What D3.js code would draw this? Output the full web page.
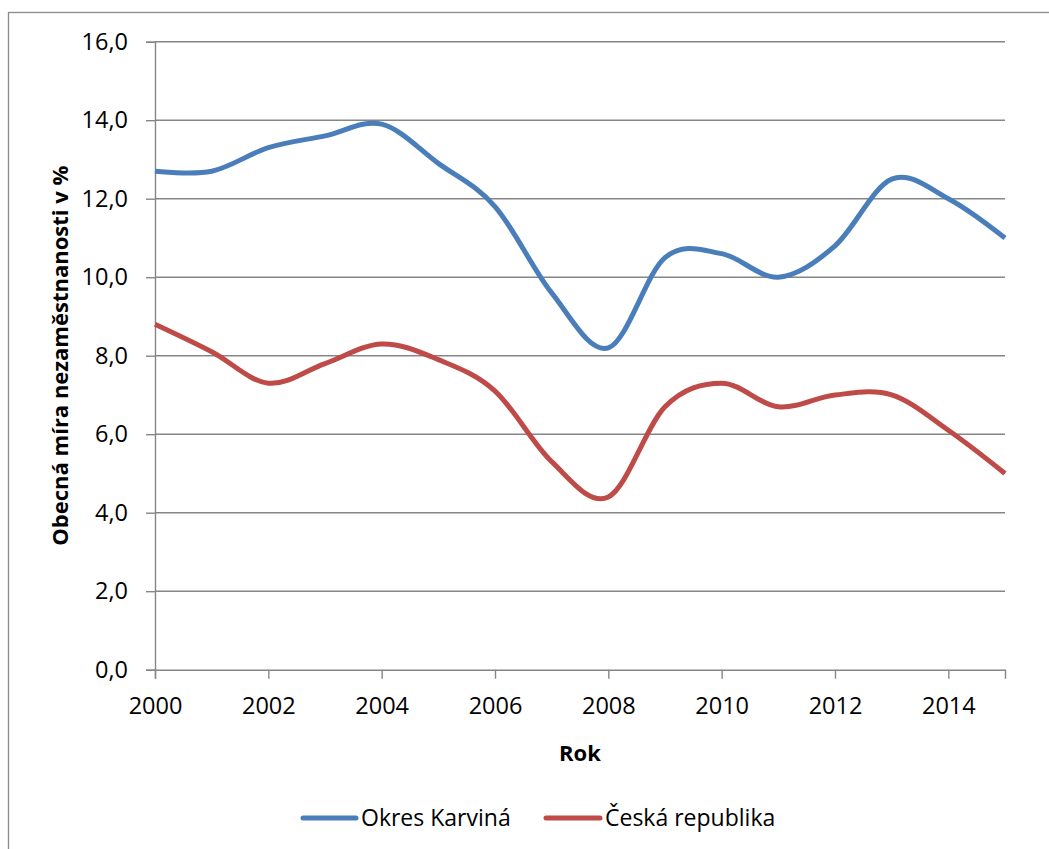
<!DOCTYPE html>
<html>
<head>
<meta charset="utf-8">
<script src="https://cdn.jsdelivr.net/npm/d3@7"></script>
<style>
  html, body { margin: 0; padding: 0; background: #fff; }
  svg { display: block; }
  text { font-family: "Open Sans", "Noto Sans", sans-serif; fill: #000; }
</style>
</head>
<body>
<svg id="chart" width="1049" height="849"></svg>
<script>
// Unemployment rate (%) by year
const years = [2000, 2001, 2002, 2003, 2004, 2005, 2006, 2007, 2008, 2009, 2010, 2011, 2012, 2013, 2014, 2015];
const karvina = [12.7, 12.7, 13.3, 13.6, 13.9, 12.9, 11.8, 9.6, 8.2, 10.5, 10.6, 10.0, 10.8, 12.5, 12.0, 11.0];
const cr = [8.8, 8.1, 7.3, 7.8, 8.3, 7.9, 7.1, 5.3, 4.4, 6.7, 7.3, 6.7, 7.0, 7.0, 6.1, 5.0];
const xTicks = [2000, 2002, 2004, 2006, 2008, 2010, 2012, 2014];
const yTicks = [0, 2, 4, 6, 8, 10, 12, 14, 16];
const seriesNames = ["Okres Karviná", "Česká republika"];
const seriesColors = ["#4a7ebb", "#be4b48"];

const svg = d3.select("#chart");
const plotLeft = 155, plotRight = 1005, plotTop = 41.7, plotBottom = 669.7;
const fontStack = "'Open Sans', 'Noto Sans', sans-serif";

const x = d3.scaleLinear().domain([2000, 2015]).range([plotLeft, plotRight]);
const y = d3.scaleLinear().domain([0, 16]).range([plotBottom, plotTop]);
const fmt = d => d.toFixed(1).replace(".", ",");

// Outer chart frame
svg.append("rect")
  .attr("x", 8.5).attr("y", 12.5)
  .attr("width", 1100).attr("height", 900)
  .attr("fill", "none").attr("stroke", "#8c8c8c").attr("stroke-width", 1.3);

// Horizontal gridlines
svg.append("g").selectAll("line")
  .data(yTicks.filter(d => d > 0))
  .join("line")
  .attr("x1", plotLeft).attr("x2", plotRight)
  .attr("y1", d => y(d)).attr("y2", d => y(d))
  .attr("stroke", "#868686").attr("stroke-width", 1.4);

// Y axis
const yAxis = svg.append("g")
  .attr("transform", `translate(${plotLeft},0)`)
  .call(d3.axisLeft(y).tickValues(yTicks).tickFormat(fmt).tickSize(9).tickPadding(18));
yAxis.select(".domain").attr("stroke", "#868686").attr("stroke-width", 1.4);
yAxis.selectAll(".tick line").attr("stroke", "#868686").attr("stroke-width", 1.4);
yAxis.selectAll(".tick text").style("font-size", "23.5px").attr("fill", "#000")
  .style("font-family", fontStack);

// X axis
const xAxis = svg.append("g")
  .attr("transform", `translate(0,${plotBottom})`)
  .call(d3.axisBottom(x).tickValues(xTicks).tickFormat(d3.format("d")).tickSize(9).tickPadding(19));
xAxis.select(".domain").attr("stroke", "#868686").attr("stroke-width", 1.4);
xAxis.selectAll(".tick line").attr("stroke", "#868686").attr("stroke-width", 1.4);
xAxis.selectAll(".tick text").style("font-size", "23.5px").attr("fill", "#000")
  .style("font-family", fontStack);

// Axis titles
svg.append("text")
  .attr("x", (plotLeft + plotRight) / 2).attr("y", 761)
  .attr("text-anchor", "middle")
  .style("font-size", "22px").style("font-weight", "bold")
  .text("Rok");

svg.append("text")
  .attr("transform", `translate(68,${(plotTop + plotBottom) / 2}) rotate(-90)`)
  .attr("text-anchor", "middle")
  .style("font-size", "22px").style("font-weight", "bold")
  .text("Obecná míra nezaměstnanosti v %");

// Smoothed series lines
const line = d3.line()
  .x((d, i) => x(years[i]))
  .y(d => y(d))
  .curve(d3.curveCatmullRom.alpha(0));

[karvina, cr].forEach((vals, i) => {
  svg.append("path")
    .datum(vals)
    .attr("d", line)
    .attr("fill", "none")
    .attr("stroke", seriesColors[i])
    .attr("stroke-width", 5)
    .attr("stroke-linejoin", "round");
});

// Legend
const legendItems = [{ x1: 303, x2: 356, tx: 361 }, { x1: 546, x2: 600, tx: 605 }];
legendItems.forEach((p, i) => {
  svg.append("line")
    .attr("x1", p.x1).attr("x2", p.x2)
    .attr("y1", 818).attr("y2", 818)
    .attr("stroke", seriesColors[i]).attr("stroke-width", 5)
    .attr("stroke-linecap", "round");
  svg.append("text")
    .attr("x", p.tx).attr("y", 826)
    .style("font-size", "23px")
    .text(seriesNames[i]);
});
</script>
</body>
</html>
